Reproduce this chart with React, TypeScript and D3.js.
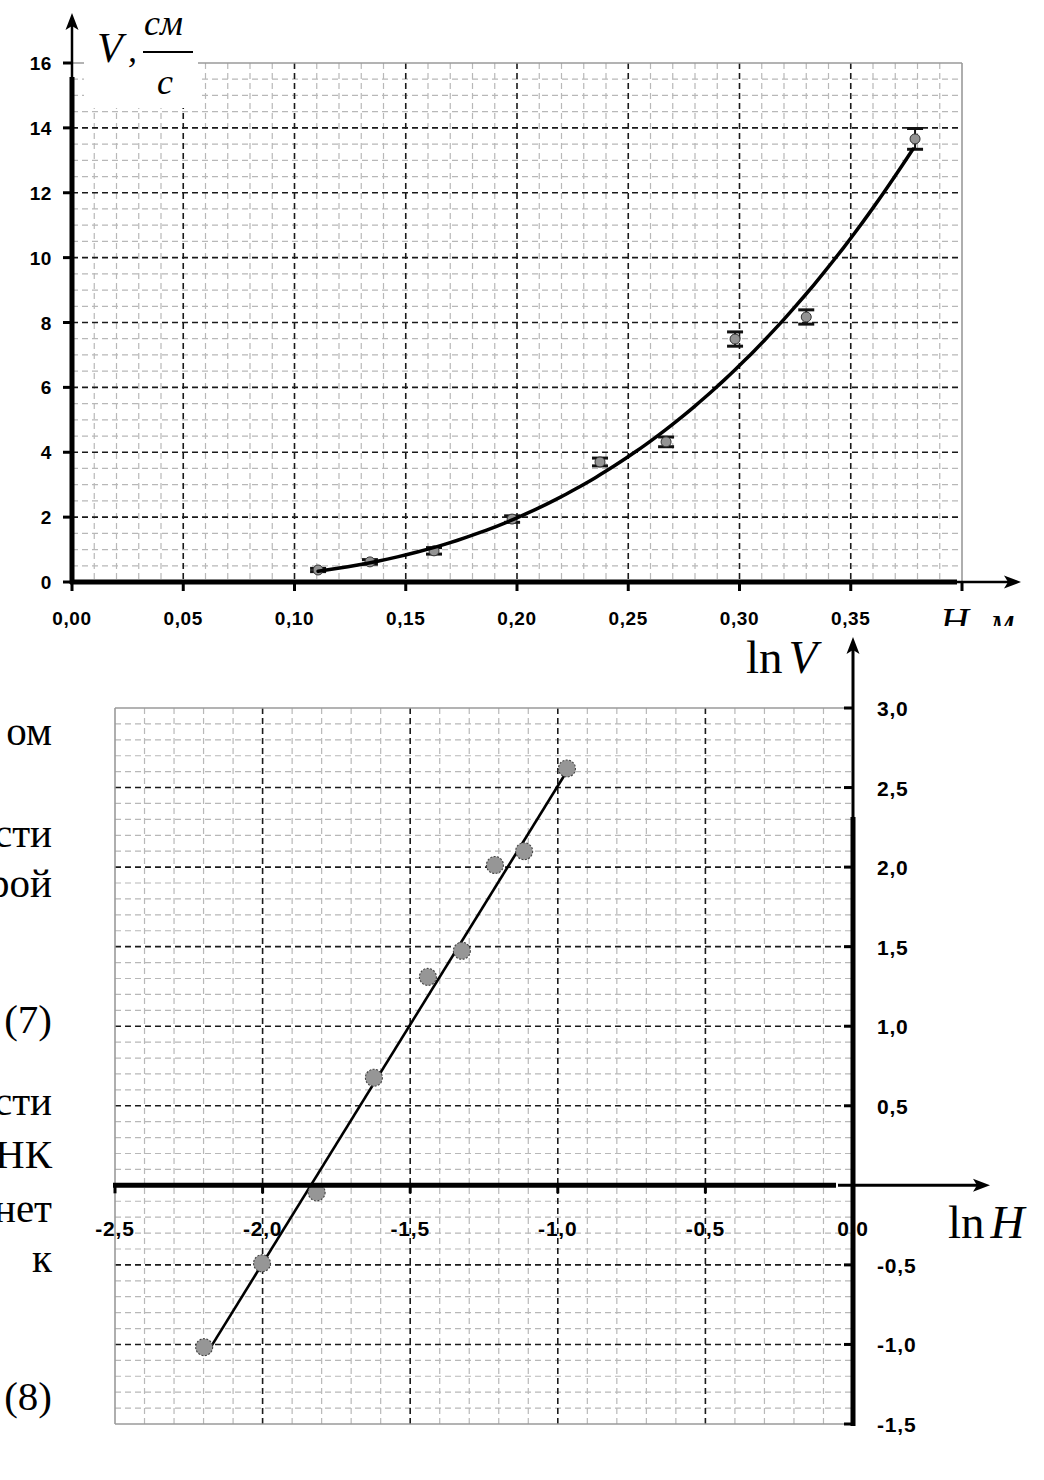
import * as d3 from "d3";

// Top chart: V (cm/s) against H (m)
const heights = [0.1106, 0.1339, 0.1627, 0.1978, 0.2373, 0.267, 0.298, 0.33, 0.3789];
const speeds = [0.37, 0.62, 0.96, 1.94, 3.7, 4.32, 7.49, 8.17, 13.66];
const speedErrors = [0.05, 0.07, 0.1, 0.1, 0.12, 0.15, 0.22, 0.22, 0.32];

// Bottom chart: ln V against ln H
const lnHeights = [-2.198, -2.002, -1.817, -1.623, -1.44, -1.325, -1.213, -1.114, -0.969];
const lnSpeeds = [-1.017, -0.49, -0.044, 0.676, 1.31, 1.474, 2.013, 2.1, 2.62];

// fitted power law V = A * H^n
const fitLnA = 5.51;
const fitExponent = 3.0;

const topXTicks = [0, 0.05, 0.1, 0.15, 0.2, 0.25, 0.3, 0.35, 0.4];
const topYTicks = [0, 2, 4, 6, 8, 10, 12, 14, 16];
const botXTicks = [-2.5, -2.0, -1.5, -1.0, -0.5, 0.0];
const botYTicks = [-1.5, -1.0, -0.5, 0.5, 1.0, 1.5, 2.0, 2.5, 3.0];

// cut-off lines of the surrounding page text
const pageFragments = [
  { text: "ом", y: 745 },
  { text: "сти", y: 847 },
  { text: "рой", y: 897 },
  { text: "(7)", y: 1033 },
  { text: "сти", y: 1115 },
  { text: "НК", y: 1168 },
  { text: "нет", y: 1222 },
  { text: "к", y: 1272 },
  { text: "(8)", y: 1410 },
];

const comma = (f: string) => (v: number) => d3.format(f)(v).replace(".", ",").replace("−", "-");

const minorStyle = { stroke: "#b8b8b8", strokeWidth: 1.2, strokeDasharray: "6,4" };
const majorStyle = { stroke: "#1a1a1a", strokeWidth: 1.6, strokeDasharray: "6,4" };
const borderStyle = { stroke: "#9a9a9a", strokeWidth: 1.6 };
const tickFont = { fontFamily: "Liberation Sans, Arial", fontWeight: "bold" as const };

function Arrow({ x, y, dir }: { x: number; y: number; dir: "up" | "right" }) {
  const pts =
    dir === "up"
      ? [[x, y], [x + 6.5, y + 17], [x, y + 13], [x - 6.5, y + 17]]
      : [[x, y], [x - 17, y - 6.5], [x - 13, y], [x - 17, y + 6.5]];
  return <path d={"M" + pts.map((p) => p.join(",")).join("L") + "Z"} fill="#000" />;
}

export default function App() {
  const tx = d3.scaleLinear().domain([0, 0.4]).range([72, 962]);
  const ty = d3.scaleLinear().domain([0, 16]).range([582, 63]);
  const bx = d3.scaleLinear().domain([-2.5, 0]).range([115, 853]);
  const by = d3.scaleLinear().domain([-1.5, 3]).range([1424, 708]);

  const topMinorX = d3.range(1, 40).filter((i) => i % 5 !== 0).map((i) => i / 100);
  const topMinorY = d3.range(1, 32).filter((i) => i % 4 !== 0).map((i) => i / 2);
  const topMajorX = d3.range(1, 8).map((i) => i * 0.05);
  const topMajorY = d3.range(1, 8).map((i) => i * 2);

  const botMinorX = d3.range(-24, 0).filter((i) => i % 5 !== 0).map((i) => i / 10);
  const botMinorY = d3.range(-14, 30).filter((i) => i % 5 !== 0).map((i) => i / 10);
  const botMajorX = [-2.0, -1.5, -1.0, -0.5];
  const botMajorY = [-1.0, -0.5, 0.5, 1.0, 1.5, 2.0, 2.5];

  const fitH = d3.range(0, 61).map((i) => 0.1106 + (i / 60) * (0.378 - 0.1106));
  const topCurve = d3
    .line<number>()
    .x((h) => tx(h))
    .y((h) => ty(Math.exp(fitLnA) * Math.pow(h, fitExponent)))
    .curve(d3.curveBasis)(fitH);
  const botLine = d3
    .line<number>()
    .x((l) => bx(l))
    .y((l) => by(fitLnA + fitExponent * l))([-2.185, -0.975]);

  const xLabelTop = comma(".2f");
  const xLabelBot = comma(".1f");

  return (
    <svg width={1044} height={1480} style={{ position: "absolute", left: 0, top: 0, background: "#fff" }}>
      <defs>
        <clipPath id="hClip">
          <rect x={900} y={590} width={144} height={36} />
        </clipPath>
      </defs>
      <rect width={1044} height={1480} fill="#fff" />

      {/* ===== top chart ===== */}
      <g>
        {topMinorX.map((v) => (
          <line key={"tmx" + v} x1={tx(v)} x2={tx(v)} y1={ty(16)} y2={ty(0)} {...minorStyle} />
        ))}
        {topMinorY.map((v) => (
          <line key={"tmy" + v} x1={tx(0)} x2={tx(0.4)} y1={ty(v)} y2={ty(v)} {...minorStyle} />
        ))}
        {topMajorX.map((v) => (
          <line key={"tMx" + v} x1={tx(v)} x2={tx(v)} y1={ty(16)} y2={ty(0)} {...majorStyle} />
        ))}
        {topMajorY.map((v) => (
          <line key={"tMy" + v} x1={tx(0)} x2={tx(0.4)} y1={ty(v)} y2={ty(v)} {...majorStyle} />
        ))}
        <line x1={tx(0)} x2={tx(0.4)} y1={ty(16)} y2={ty(16)} {...borderStyle} />
        <line x1={tx(0.4)} x2={tx(0.4)} y1={ty(16)} y2={ty(0)} {...borderStyle} />

        {/* white patch behind the axis title */}
        <rect x={84} y={0} width={114} height={108} fill="#fff" />

        {heights.map((h, i) => {
          const cx = tx(h);
          const lo = ty(speeds[i] - speedErrors[i]);
          const hi = ty(speeds[i] + speedErrors[i]);
          return (
            <g key={"p" + i}>
              <line x1={cx} x2={cx} y1={lo} y2={hi} stroke="#111" strokeWidth={2} />
              <line x1={cx - 8} x2={cx + 8} y1={lo} y2={lo} stroke="#111" strokeWidth={3} />
              <line x1={cx - 8} x2={cx + 8} y1={hi} y2={hi} stroke="#111" strokeWidth={3} />
              <circle cx={cx} cy={ty(speeds[i])} r={5} fill="#939393" stroke="#333" strokeWidth={1} />
            </g>
          );
        })}
        <path d={topCurve ?? ""} fill="none" stroke="#000" strokeWidth={3.5} strokeLinecap="round" />

        {/* axes */}
        <line x1={tx(0)} x2={tx(0)} y1={ty(0) + 2} y2={77} stroke="#000" strokeWidth={5} />
        <line x1={tx(0)} x2={tx(0)} y1={80} y2={24} stroke="#000" strokeWidth={2.5} />
        <Arrow x={tx(0)} y={13} dir="up" />
        <line x1={tx(0) - 2} x2={957} y1={ty(0)} y2={ty(0)} stroke="#000" strokeWidth={5} />
        <line x1={955} x2={1010} y1={ty(0)} y2={ty(0)} stroke="#000" strokeWidth={2.5} />
        <Arrow x={1021} y={ty(0)} dir="right" />

        {topXTicks.map((v) => (
          <g key={"tx" + v}>
            <line x1={tx(v)} x2={tx(v)} y1={ty(0)} y2={ty(0) + 9} stroke="#000" strokeWidth={3} />
            {v < 0.4 && (
              <text x={tx(v)} y={625} textAnchor="middle" {...tickFont} fontSize={19} letterSpacing={0.6}>
                {xLabelTop(v)}
              </text>
            )}
          </g>
        ))}
        {topYTicks.map((v) => (
          <g key={"ty" + v}>
            <line x1={tx(0) - 9} x2={tx(0)} y1={ty(v)} y2={ty(v)} stroke="#000" strokeWidth={3} />
            <text x={52} y={ty(v) + 7} textAnchor="end" {...tickFont} fontSize={19} letterSpacing={0.6}>
              {v}
            </text>
          </g>
        ))}

        {/* axis titles */}
        <g fontFamily="Liberation Serif, Times New Roman" fontStyle="italic">
          <text x={97} y={62} fontSize={42}>V</text>
          <text x={128} y={62} fontSize={36}>,</text>
          <text x={144} y={35} fontSize={36}>см</text>
          <line x1={143} x2={193} y1={52} y2={52} stroke="#000" strokeWidth={1.8} />
          <text x={157} y={94} fontSize={36}>с</text>
          <text x={940} y={635} fontSize={40} clipPath="url(#hClip)">H, м</text>
        </g>
      </g>

      {/* ===== bottom chart ===== */}
      <g>
        {botMinorX.map((v) => (
          <line key={"bmx" + v} x1={bx(v)} x2={bx(v)} y1={by(3)} y2={by(-1.5)} {...minorStyle} />
        ))}
        {botMinorY.map((v) => (
          <line key={"bmy" + v} x1={bx(-2.5)} x2={bx(0)} y1={by(v)} y2={by(v)} {...minorStyle} />
        ))}
        {botMajorX.map((v) => (
          <line key={"bMx" + v} x1={bx(v)} x2={bx(v)} y1={by(3)} y2={by(-1.5)} {...majorStyle} />
        ))}
        {botMajorY.map((v) => (
          <line key={"bMy" + v} x1={bx(-2.5)} x2={bx(0)} y1={by(v)} y2={by(v)} {...majorStyle} />
        ))}
        <line x1={bx(-2.5)} x2={bx(0)} y1={by(3)} y2={by(3)} {...borderStyle} />
        <line x1={bx(-2.5)} x2={bx(0)} y1={by(-1.5)} y2={by(-1.5)} {...borderStyle} />
        <line x1={bx(-2.5)} x2={bx(-2.5)} y1={by(3)} y2={by(-1.5)} {...borderStyle} />

        <path d={botLine ?? ""} fill="none" stroke="#000" strokeWidth={2.6} />
        {lnHeights.map((l, i) => (
          <circle
            key={"b" + i}
            cx={bx(l)}
            cy={by(lnSpeeds[i])}
            r={8.5}
            fill="#969696"
            stroke="#444"
            strokeWidth={1.1}
            strokeDasharray="2,1.5"
          />
        ))}

        {/* axes */}
        <line x1={bx(-2.5) - 2} x2={836} y1={by(0)} y2={by(0)} stroke="#000" strokeWidth={5} />
        <line x1={838} x2={978} y1={by(0)} y2={by(0)} stroke="#000" strokeWidth={3} />
        <Arrow x={990} y={by(0)} dir="right" />

        {botXTicks.map((v) => (
          <g key={"bx" + v}>
            {v < 0 && <line x1={bx(v)} x2={bx(v)} y1={by(0)} y2={by(0) + 8} stroke="#000" strokeWidth={3} />}
            <text x={bx(v)} y={1236} textAnchor="middle" {...tickFont} fontSize={21} letterSpacing={0.8}>
              {xLabelBot(v)}
            </text>
          </g>
        ))}

        <line x1={bx(0)} x2={bx(0)} y1={by(-1.5) + 2} y2={817} stroke="#000" strokeWidth={5} />
        <line x1={bx(0)} x2={bx(0)} y1={820} y2={650} stroke="#000" strokeWidth={3} />
        <Arrow x={bx(0)} y={637} dir="up" />

        {botYTicks.map((v) => (
          <g key={"by" + v}>
            <line x1={bx(0) - 9} x2={bx(0)} y1={by(v)} y2={by(v)} stroke="#000" strokeWidth={3} />
            <text x={877} y={by(v) + 8} {...tickFont} fontSize={21} letterSpacing={0.8}>
              {xLabelBot(v)}
            </text>
          </g>
        ))}

        <g fontFamily="Liberation Serif, Times New Roman" fontSize={47}>
          <text x={746} y={673}>
            ln<tspan dx={6} fontStyle="italic">V</tspan>
          </text>
          <text x={948} y={1238}>
            ln<tspan dx={6} fontStyle="italic">H</tspan>
          </text>
        </g>
      </g>

      {/* surrounding page text */}
      <g fontFamily="Liberation Serif, Times New Roman" fontSize={41} textAnchor="end">
        {pageFragments.map((f, i) => (
          <text key={"f" + i} x={52} y={f.y}>
            {f.text}
          </text>
        ))}
      </g>
    </svg>
  );
}
